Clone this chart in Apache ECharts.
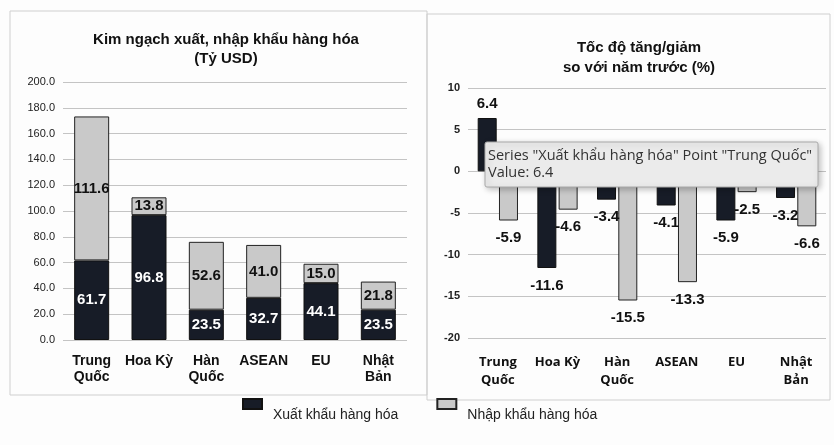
<!DOCTYPE html>
<html>
<head>
<meta charset="utf-8">
<script src="https://cdn.jsdelivr.net/npm/echarts@6/dist/echarts.min.js"></script>
<style>
html,body{margin:0;padding:0;background:#fdfdfd;}
#c{width:834px;height:445px;}
</style>
</head>
<body>
<div id="c"></div>
<script>
var categories = ['Trung\nQuốc', 'Hoa Kỳ', 'Hàn\nQuốc', 'ASEAN', 'EU', 'Nhật\nBản'];
var exportValue = [61.7, 96.8, 23.5, 32.7, 44.1, 23.5];
var importValue = [111.6, 13.8, 52.6, 41.0, 15.0, 21.8];
var exportGrowth = [6.4, -11.6, -3.4, -4.1, -5.9, -3.2];
var importGrowth = [-5.9, -4.6, -15.5, -13.3, -2.5, -6.6];
var seriesNames = ['Xuất khẩu hàng hóa', 'Nhập khẩu hàng hóa'];
var titles = ['Kim ngạch xuất, nhập khẩu hàng hóa\n(Tỷ USD)', 'Tốc độ tăng/giảm\nso với năm trước (%)'];
var tooltipText = 'Series "Xuất khẩu hàng hóa" Point "Trung Quốc"\nValue: 6.4';

var DARK = '#171c27', LIGHT = '#c9c9c9';
var chart = echarts.init(document.getElementById('c'));
function fmt1(p){ return Number(p.value).toFixed(1); }
var lblL = {show:true, position:'inside', fontFamily:'Liberation Sans, Arial', fontWeight:'bold', fontSize:15, formatter:fmt1};
var lblR = {show:true, fontFamily:'Liberation Sans, Arial', fontWeight:'bold', fontSize:15, color:'#111', distance:10,
  position:'top', formatter:fmt1};
function rightData(arr){
  return arr.map(function(v){ return {value:v, label: v < 0 ? {position:'bottom', distance:10} : {position:'top', distance:7}}; });
}
chart.setOption({
  animation:false,
  backgroundColor:'#fdfdfd',
  title:[
    {text:titles[0], left:221, top:25, textAlign:'center',
     textStyle:{fontFamily:'Liberation Sans, Arial', fontWeight:'bold', fontSize:15, lineHeight:19, color:'#111'}},
    {text:titles[1], left:634, top:33, textAlign:'center',
     textStyle:{fontFamily:'Liberation Sans, Arial', fontWeight:'bold', fontSize:15, lineHeight:20, color:'#111'}}
  ],
  legend:{data:seriesNames, left:237, top:393, itemWidth:19, itemHeight:10, itemGap:38,
    icon:'rect', formatter:'{t|{name}}',
    textStyle:{fontFamily:'Liberation Sans, Arial', fontSize:14, color:'#222',
      rich:{t:{fontFamily:'Liberation Sans, Arial', fontSize:14, color:'#222', padding:[22,0,0,6]}}}},
  grid:[
    {left:63, right:427, top:82, bottom:105},
    {left:468, right:8, top:88, bottom:107}
  ],
  xAxis:[
    {type:'category', gridIndex:0, data:categories, axisLine:{show:false}, axisTick:{show:false},
     axisLabel:{interval:0, margin:13, fontFamily:'Liberation Sans, Arial', fontWeight:'bold', fontSize:14, lineHeight:16, color:'#111'}},
    {type:'category', gridIndex:1, data:categories, axisLine:{show:false}, axisTick:{show:false},
     axisLabel:{interval:0, margin:15, fontFamily:'Open Sans', fontWeight:'bold', fontSize:13, lineHeight:18, color:'#111'}}
  ],
  yAxis:[
    {type:'value', gridIndex:0, min:0, max:200, interval:20,
     axisLabel:{margin:8, formatter:function(v){return v.toFixed(1);}, fontFamily:'Liberation Sans, Arial', fontSize:11, color:'#222'},
     splitLine:{lineStyle:{color:'#c4c4c4'}}},
    {type:'value', gridIndex:1, min:-20, max:10, interval:5,
     axisLabel:{margin:8, fontFamily:'Liberation Sans, Arial', fontWeight:'bold', fontSize:11, color:'#222'},
     splitLine:{lineStyle:{color:'#c4c4c4'}}}
  ],
  series:[
    {name:seriesNames[0], type:'bar', xAxisIndex:0, yAxisIndex:0, stack:'a', barWidth:35, data:exportValue,
     itemStyle:{color:DARK, borderColor:'#111', borderWidth:1},
     label:Object.assign({}, lblL, {color:'#fff'})},
    {name:seriesNames[1], type:'bar', xAxisIndex:0, yAxisIndex:0, stack:'a', barWidth:35, data:importValue,
     itemStyle:{color:LIGHT, borderColor:'#222', borderWidth:1},
     label:Object.assign({}, lblL, {color:'#111'})},
    {name:seriesNames[0], type:'bar', xAxisIndex:1, yAxisIndex:1, barWidth:19, barGap:'12%', data:rightData(exportGrowth),
     itemStyle:{color:DARK, borderColor:'#111', borderWidth:1}, label:lblR},
    {name:seriesNames[1], type:'bar', xAxisIndex:1, yAxisIndex:1, barWidth:19, barGap:'12%', data:rightData(importGrowth),
     itemStyle:{color:LIGHT, borderColor:'#222', borderWidth:1}, label:lblR}
  ],
  graphic:[
    {type:'rect', shape:{x:10, y:11, width:417, height:384}, style:{fill:'none', stroke:'#cfcfcf', lineWidth:1}, z:-1},
    {type:'rect', shape:{x:427, y:14, width:403, height:386}, style:{fill:'none', stroke:'#cfcfcf', lineWidth:1}, z:-1},
    {type:'rect', z:100, zlevel:1, shape:{x:485, y:142, width:333, height:45, r:2},
     style:{fill:'#ebebeb', stroke:'#a8a8a8', lineWidth:1, shadowBlur:6, shadowColor:'rgba(0,0,0,0.25)', shadowOffsetX:2, shadowOffsetY:2}},
    {type:'text', z:101, zlevel:1, x:488, y:147,
     style:{text:tooltipText, fontFamily:'Open Sans', fontSize:14.5, lineHeight:17, fill:'#333'}}
  ]
});
</script>
</body>
</html>
